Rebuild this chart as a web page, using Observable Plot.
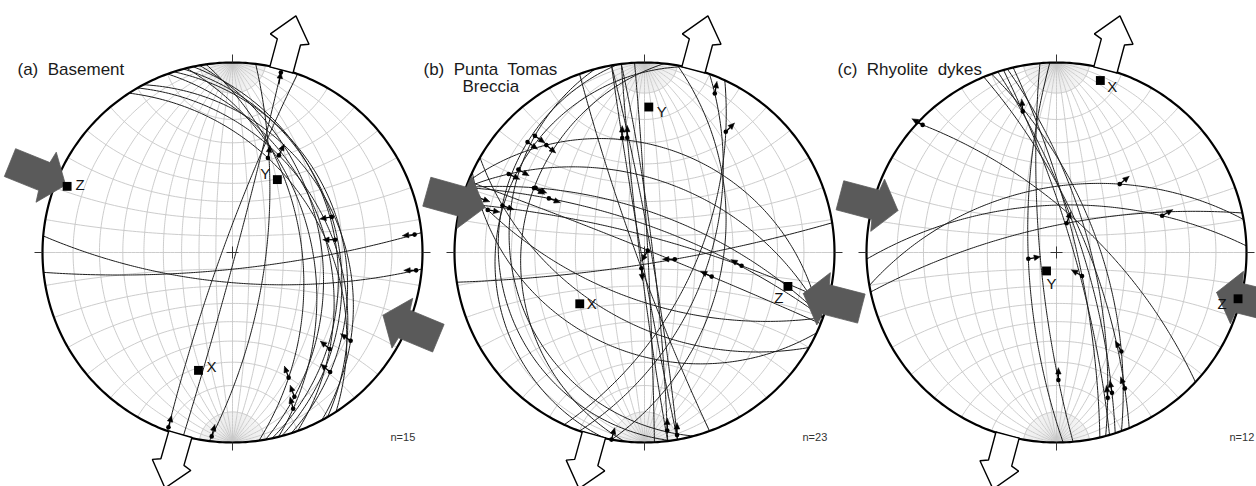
<!DOCTYPE html>
<html>
<head>
<meta charset="utf-8">
<script src="https://cdn.jsdelivr.net/npm/d3@7"></script>
<script src="https://cdn.jsdelivr.net/npm/@observablehq/plot@0.6"></script>
<style>
html,body{margin:0;padding:0;background:#fff;}
#chart{display:flex;width:1256px;height:486px;overflow:hidden;}
#chart svg{display:block;flex:none;overflow:visible;}
svg text{white-space:pre;}
</style>
</head>
<body>
<div id="chart"></div>
<script>
// ================= DATA =================
const panelIds = ["a", "b", "c"];
const titleLines = [["(a)  Basement"], ["(b)  Punta  Tomas", "Breccia"], ["(c)  Rhyolite  dykes"]];
const sampleCounts = ["n=15", "n=23", "n=12"];

// Fault planes: [dip direction, dip] (degrees)
const planesA = [[105,88],[290,84],[97,70],[57,40],[60,36],[75,32],[78,33],[174,80],[185,72],[62,31],[70,38],[72,30],[82,50],[80,40],[76,45]];
// Slip lineations: [trend, plunge, arrow azimuth, arrow ends at point (1) or starts there (0)]
const slipA = [[14.7,1.1,10,1],[195,1.7,15,0],[187,1.7,15,0],[20.3,34.5,10,0],[25.1,32,25,0],[70.3,31.4,260,0],[82.9,33,270,0],[84.7,2.1,265,0],[94.6,2,270,0],[126.2,13.3,305,0],[135,18.7,310,0],[140.7,11.7,310,0],[158,20.2,340,0],[158.3,12.7,340,0],[164.5,12.8,345,0]];

const planesB = [[87,88],[80,86],[83,85],[260,88],[263,87],[22,88],[15,80],[171,83],[250,85],[110,53],[100,45],[115,60],[262,15],[255,20],[22,32],[282,14],[20,48],[276,24],[20,74],[205,35],[210,50],[200,62],[20,66]];
const slipB = [[0,89,210,0],[171.2,1.5,0,0],[169.4,3,0,0],[352.2,27,0,0],[354.7,27.3,0,0],[121.9,48.6,295,0],[121.8,37.2,300,0],[75.8,72.9,270,0],[161.7,81.8,175,0],[20.8,7.4,10,0],[192.2,1.9,15,0],[36.6,13.5,45,0],[313.6,10.7,125,0],[317.4,11.7,125,0],[317.5,15.2,130,0],[303.3,12.7,120,0],[298.7,12.1,115,0],[299.7,19.2,120,0],[299.6,29.9,110,0],[292.5,10.6,110,0],[289.3,14.4,110,0],[285.7,9.2,100,0],[299.6,23.1,115,0]];

const planesC = [[43,68],[350,52],[358,62],[348,74],[268,73],[265,80],[67.5,72],[73.8,80],[76.8,78],[70,65],[72,75],[75,70]];
const slipC = [[313.5,1.6,300,0],[45.6,40.4,50,0],[63.2,24.4,60,0],[22.4,73.2,20,0],[257,73.3,80,0],[185.6,21,0,0],[164.2,15.9,340,0],[349.2,14.8,355,0],[120.6,65.2,300,0],[140.3,22.8,330,0],[163.6,14.4,350,0],[162.2,12.5,355,0]];

// Principal axes: [label, trend, plunge]
const axesA = [["X",196.1,24.3],["Y",31.6,41.5],["Z",291.8,3.7]];
const axesB = [["X",231.6,43],["Y",1.7,15.1],["Z",103.3,14.4]];
const axesC = [["X",14.3,3.9],["Y",208.4,77.4],["Z",104.3,0.8]];

// Extension (white) and compression (grey) arrow azimuths
const extensionAzimuth = [[15,196],[15,195.5],[15,195]];
const compressionAzimuth = [[292,112.6],[285.6,104.5],[284.8,104]];

// ================= LAYOUT =================
const R = 190, H = 486, CY = 252;
const panelWidth = [420, 414, 422];
const centerX = [232, 224, 222];
const titleDx = [17, 3, 3];
const titleDy = [69, 69, 69];
const secondLineIndent = 39;
const countDx = [390, 382, 395];
const compressionInset = [[10, 27], [24, 26], [26, 25]];
const axisLabelOffset = [
  [[13,-3],[-12,-5],[13,-1]],
  [[12,0],[13,5],[-9,12]],
  [[12,7],[5,13],[-16,5]]
];
const extShape = [[0,-12],[29,-12],[32,-20],[56,0],[32,20],[29,12],[0,12]];
const compShape = [[0,0],[21,-27],[23,-15],[60,-15],[60,15],[23,15],[21,27]];
const FONT = "Liberation Sans, Arial, Helvetica, sans-serif";

// ================= GEOMETRY (Wulff, lower hemisphere) =================
const rad = Math.PI / 180;
const vec = (trend, plunge) => {
  const t = trend * rad, p = plunge * rad;
  return [Math.cos(p) * Math.sin(t), Math.cos(p) * Math.cos(t), Math.sin(p)];
};
const dot3 = (a, b) => a[0]*b[0] + a[1]*b[1] + a[2]*b[2];
const cross3 = (a, b) => [a[1]*b[2]-a[2]*b[1], a[2]*b[0]-a[0]*b[2], a[0]*b[1]-a[1]*b[0]];
function project(v) {
  let [x, y, z] = v;
  if (z < 0) { x = -x; y = -y; z = -z; }
  const n = Math.hypot(x, y, z); x /= n; y /= n; z /= n;
  return [x / (1 + z), y / (1 + z)];
}
function basis(dd, dip) { return [vec(dd - 90, 0), vec(dd, dip)]; }
function greatCircle(dd, dip, t0 = 0, t1 = 180, step = 1) {
  const [s, d] = basis(dd, dip), pts = [];
  for (let t = t0; t <= t1 + 1e-9; t += step) {
    const c = Math.cos(t * rad), si = Math.sin(t * rad);
    pts.push(project([c*s[0]+si*d[0], c*s[1]+si*d[1], c*s[2]+si*d[2]]));
  }
  return pts;
}
function smallCircle(alpha) {
  const pts = [], ca = Math.cos(alpha * rad), sa = Math.sin(alpha * rad);
  for (let f = 0; f <= 180; f += 2) pts.push(project([sa*Math.cos(f*rad), ca, sa*Math.sin(f*rad)]));
  return pts;
}
function snapToPlane(dd, dip, trend, plunge) {
  const [s, d] = basis(dd, dip);
  const n = cross3(s, d);
  let v = vec(trend, plunge);
  const k = dot3(v, n);
  v = [v[0]-k*n[0], v[1]-k*n[1], v[2]-k*n[2]];
  if (v[2] < 0) v = dot3(v, s) >= 0 ? s : [-s[0], -s[1], -s[2]];
  return project(v);
}

// ---------- shared net grid ----------
const grid = [], fan = [];
{
  let id = 0;
  const add = (arr, pts) => { id++; for (const [x, y] of pts) arr.push({x, y, id}); };
  for (let dip = 10; dip <= 90; dip += 10) { add(grid, greatCircle(90, dip)); if (dip < 90) add(grid, greatCircle(270, dip)); }
  for (let a = 10; a <= 170; a += 10) add(grid, smallCircle(a));
  for (let dip = 2; dip < 90; dip += 2) {
    if (dip % 10 === 0) continue;
    for (const dd of [90, 270]) { add(fan, greatCircle(dd, dip, 0, 10, 1)); add(fan, greatCircle(dd, dip, 170, 180, 1)); }
  }
}
const primitive = d3.range(0, 361, 1).map(a => { const [x, y] = project(vec(a, 0)); return {x, y}; });

function polygon(shape, az, r0, id) {
  const u = [Math.sin(az*rad), Math.cos(az*rad)], p = [Math.cos(az*rad), -Math.sin(az*rad)];
  const pts = shape.map(([a, l]) => ({x: ((r0 + a)*u[0] + l*p[0]) / R, y: ((r0 + a)*u[1] + l*p[1]) / R, id}));
  pts.push({...pts[0]});
  return pts;
}

function buildPanel(i) {
  const planes = [planesA, planesB, planesC][i];
  const slips = [slipA, slipB, slipC][i];
  const axes = [axesA, axesB, axesC][i];

  const circles = [];
  planes.forEach(([dd, dip], k) => { for (const [x, y] of greatCircle(dd, dip)) circles.push({x, y, id: k}); });

  const dots = [], shafts = [], heads = [];
  const L = 12 / R, HL = 6 / R, HW = 2.7 / R;
  slips.forEach(([tr, pl, dir, atEnd], k) => {
    const [dd, dip] = planes[k];
    const [px, py] = snapToPlane(dd, dip, tr, pl);
    dots.push({x: px, y: py});
    const u = [Math.sin(dir*rad), Math.cos(dir*rad)], q = [Math.cos(dir*rad), -Math.sin(dir*rad)];
    const sx = atEnd ? px - L*u[0] : px, sy = atEnd ? py - L*u[1] : py;
    const tx = sx + L*u[0], ty = sy + L*u[1];
    const bx = tx - HL*u[0], by = ty - HL*u[1];
    shafts.push({x1: sx, y1: sy, x2: bx, y2: by});
    heads.push({x: tx, y: ty, id: k}, {x: bx + HW*q[0], y: by + HW*q[1], id: k}, {x: bx - HW*q[0], y: by - HW*q[1], id: k}, {x: tx, y: ty, id: k});
  });

  const axisPts = axes.map(([label, tr, pl], k) => {
    const [x, y] = project(vec(tr, pl));
    const [ox, oy] = axisLabelOffset[i][k];
    return {label, x, y, lx: x + ox / R, ly: y - oy / R};
  });

  const ext = [...polygon(extShape, extensionAzimuth[i][0], R - 1, 0), ...polygon(extShape, extensionAzimuth[i][1], R - 1, 1)];
  const comp = [...polygon(compShape, compressionAzimuth[i][0], R - compressionInset[i][0], 0),
                ...polygon(compShape, compressionAzimuth[i][1], R - compressionInset[i][1], 1)];

  const c = 6 / R, t0 = 1, t1 = 1 + 8 / R;
  const ticks = [
    {x1: -c, y1: 0, x2: c, y2: 0}, {x1: 0, y1: -c, x2: 0, y2: c},
    {x1: 0, y1: t0, x2: 0, y2: t1}, {x1: 0, y1: -t0, x2: 0, y2: -t1},
    {x1: t0, y1: 0, x2: t1, y2: 0}, {x1: -t0, y1: 0, x2: -t1, y2: 0}
  ];

  const W = panelWidth[i], cx = centerX[i];
  const marks = [
    Plot.line(fan, {x: "x", y: "y", z: "id", stroke: "#d9d9d9", strokeWidth: 0.4}),
    Plot.line(grid, {x: "x", y: "y", z: "id", stroke: "#c6c6c6", strokeWidth: 0.9}),
    Plot.line(circles, {x: "x", y: "y", z: "id", stroke: "#1c1c1c", strokeWidth: 1}),
    Plot.line(primitive, {x: "x", y: "y", stroke: "#000", strokeWidth: 2.2}),
    Plot.link(ticks, {x1: "x1", y1: "y1", x2: "x2", y2: "y2", stroke: "#333", strokeWidth: 1}),
    Plot.line(ext, {x: "x", y: "y", z: "id", fill: "white", stroke: "#000", strokeWidth: 1.4, strokeLinejoin: "miter"}),
    Plot.link(shafts, {x1: "x1", y1: "y1", x2: "x2", y2: "y2", stroke: "#000", strokeWidth: 1.3}),
    Plot.line(heads, {x: "x", y: "y", z: "id", fill: "#000", stroke: "#000", strokeWidth: 0.6}),
    Plot.dot(dots, {x: "x", y: "y", r: 2.3, fill: "#000"}),
    Plot.line(comp, {x: "x", y: "y", z: "id", fill: "#5a5a5a", stroke: "#5a5a5a", strokeWidth: 0.8}),
    Plot.dot(axisPts, {x: "x", y: "y", symbol: "square", r: 5, fill: "#000"}),
    Plot.text(axisPts, {x: "lx", y: "ly", text: "label", fontSize: 15, fill: "#111"}),
    Plot.text([titleLines[i][0]], {frameAnchor: "top-left", dx: titleDx[i], dy: titleDy[i], text: d => d, textAnchor: "start", lineAnchor: "middle", fontSize: 17, fill: "#1a1a1a"}),
    Plot.text([sampleCounts[i]], {frameAnchor: "top-left", dx: countDx[i], dy: 437, text: d => d, textAnchor: "start", lineAnchor: "middle", fontSize: 11, fill: "#333"})
  ];
  if (titleLines[i].length > 1) {
    marks.push(Plot.text([titleLines[i][1]], {frameAnchor: "top-left", dx: titleDx[i] + secondLineIndent, dy: titleDy[i] + 17, text: d => d, textAnchor: "start", lineAnchor: "middle", fontSize: 17, fill: "#1a1a1a"}));
  }

  return Plot.plot({
    width: W, height: H, margin: 0,
    x: {domain: [-cx / R, (W - cx) / R], axis: null},
    y: {domain: [-(H - CY) / R, CY / R], axis: null},
    style: {background: "transparent", overflow: "visible", fontFamily: FONT},
    marks
  });
}

const chart = document.getElementById("chart");
panelIds.forEach((id, i) => chart.appendChild(buildPanel(i)));
</script>
</body>
</html>
